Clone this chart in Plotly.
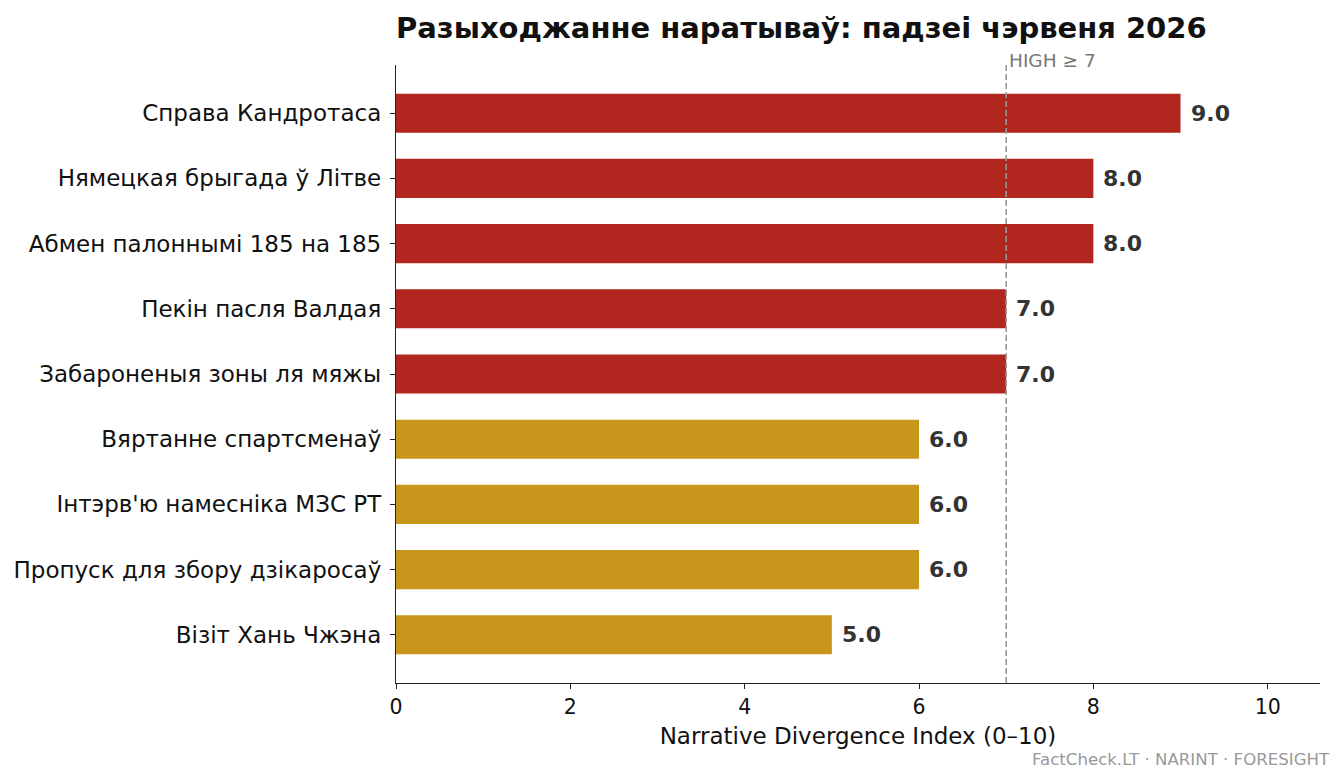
import plotly.graph_objects as go

# data (top to bottom as shown)
events = [
    "Справа Кандротаса",
    "Нямецкая брыгада ў Літве",
    "Абмен палоннымі 185 на 185",
    "Пекін пасля Валдая",
    "Забароненыя зоны ля мяжы",
    "Вяртанне спартсменаў",
    "Інтэрв'ю намесніка МЗС РТ",
    "Пропуск для збору дзікаросаў",
    "Візіт Хань Чжэна",
]
scores = [9.0, 8.0, 8.0, 7.0, 7.0, 6.0, 6.0, 6.0, 5.0]
threshold = 7

RED = "#B22620"
GOLD = "#C8961C"
FONT = "DejaVu Sans"

colors = [RED if s >= threshold else GOLD for s in scores]

fig = go.Figure()
fig.add_trace(go.Bar(
    x=scores, y=events, orientation="h",
    marker=dict(color=colors, line=dict(width=0)),
    width=0.6, hoverinfo="x+y",
))

# value labels to the right of each bar
for ev, s in zip(events, scores):
    fig.add_annotation(
        x=s, y=ev, text=f"<b>{s:.1f}</b>", showarrow=False,
        xanchor="left", yanchor="middle", xshift=8,
        font=dict(family=FONT, size=22, color="#333333"),
    )

# threshold line, drawn over the bars
fig.add_shape(
    type="line", x0=threshold, x1=threshold, y0=0, y1=1,
    xref="x", yref="paper", layer="above",
    line=dict(color="#999999", width=1.6, dash="6px,3px"),
)
fig.add_annotation(
    x=threshold, y=1, xref="x", yref="paper", text=f"HIGH ≥ {threshold}",
    showarrow=False, xanchor="left", yanchor="bottom", xshift=1, yshift=-8,
    font=dict(family=FONT, size=18.5, color="#777777"),
)

# footer
fig.add_annotation(
    x=1, y=0, xref="paper", yref="paper", text="FactCheck.LT · NARINT · FORESIGHT",
    showarrow=False, xanchor="right", yanchor="bottom", xshift=12, yshift=-88,
    font=dict(family=FONT, size=16.6, color="#999999"),
)

fig.update_layout(
    width=1343, height=783,
    margin=dict(l=388, r=31, t=57, b=108, autoexpand=False),
    plot_bgcolor="white", paper_bgcolor="white",
    font=dict(family=FONT, color="#111111"),
    showlegend=False,
    title=dict(
        text="<b>Разыходжанне наратываў: падзеі чэрвеня 2026</b>",
        x=388 / 1343, xanchor="left", xref="container",
        y=1 - 20 / 783, yanchor="middle", yref="container",
        font=dict(family=FONT, size=29, color="#111111"),
    ),
    xaxis=dict(
        range=[0, 10.6], tickvals=[0, 2, 4, 6, 8, 10],
        showgrid=False, zeroline=False, automargin=False,
        showline=True, linecolor="#222222", linewidth=1.3,
        ticks="outside", ticklen=5, tickwidth=1.2, tickcolor="#222222",
        tickfont=dict(family=FONT, size=20.5, color="#111111"),
        title=dict(text="Narrative Divergence Index (0–10)",
                   font=dict(family=FONT, size=23, color="#111111"), standoff=10),
    ),
    yaxis=dict(
        categoryorder="array", categoryarray=events[::-1],
        range=[-0.74, 8.74],
        showgrid=False, zeroline=False, automargin=False,
        showline=True, linecolor="#222222", linewidth=1.3,
        ticks="outside", ticklen=5, tickwidth=1.2, tickcolor="#222222",
        ticklabelstandoff=4,
        tickfont=dict(family=FONT, size=23, color="#111111"),
    ),
)

fig.write_html("out.html")
